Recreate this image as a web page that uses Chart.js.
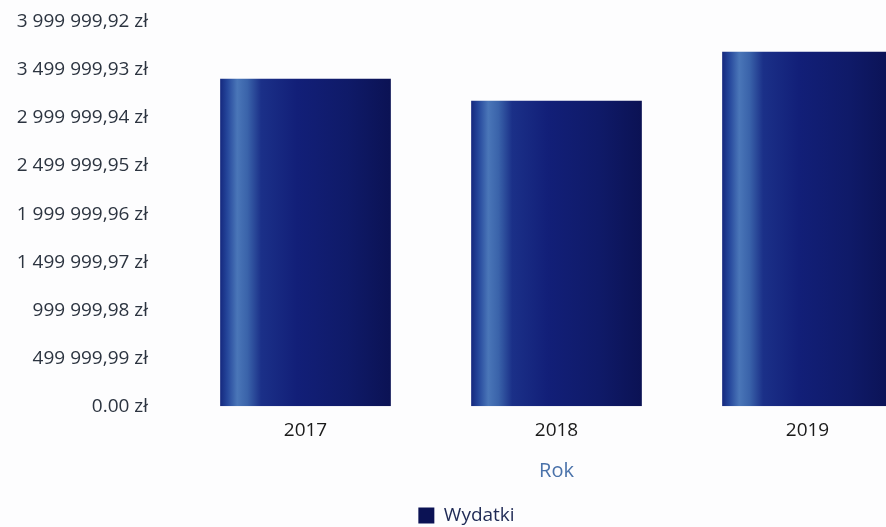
<!DOCTYPE html>
<html>
<head>
<meta charset="utf-8">
<script src="https://cdn.jsdelivr.net/npm/chart.js@4/dist/chart.umd.min.js"></script>
<style>
  html, body { margin: 0; padding: 0; background: #fdfdfe; overflow: hidden; }
  #wrap { width: 933px; height: 535px; position: relative; }
</style>
</head>
<body>
<div id="wrap"><canvas id="wydatkiChart"></canvas></div>
<script>
// Lata i wydatki
var years = ['2017', '2018', '2019'];
var wydatki = [3410000, 3180000, 3690000];

// Wartości i etykiety osi Y (tak jak na wykresie)
var yTickValues = [0, 499999.99, 999999.98, 1499999.97, 1999999.96, 2499999.95, 2999999.94, 3499999.93, 3999999.92];
var yTickLabels = ['0.00 zł', '499 999,99 zł', '999 999,98 zł', '1 499 999,97 zł', '1 999 999,96 zł',
                   '2 499 999,95 zł', '2 999 999,94 zł', '3 499 999,93 zł', '3 999 999,92 zł'];

var barPct = 0.85, catPct = 0.8;

// jasniejszy pasek po lewej stronie słupka
function barColor(c) {
    var chart = c.chart;
    var xs = chart.scales && chart.scales.x;
    if (c.type !== 'data' || !xs || !xs.width) return '#101a66';
    var cx = xs.getPixelForValue(c.dataIndex);
    var w = xs.width / years.length * catPct * barPct;
    var g = chart.ctx.createLinearGradient(cx - w / 2, 0, cx + w / 2, 0);
    g.addColorStop(0, '#15287e');
    g.addColorStop(0.04, '#24459a');
    g.addColorStop(0.1, '#4a76b8');
    g.addColorStop(0.16, '#3a63aa');
    g.addColorStop(0.24, '#1b3088');
    g.addColorStop(0.45, '#121f78');
    g.addColorStop(0.75, '#0f1a68');
    g.addColorStop(1, '#0b1254');
    return g;
}

var ctx = document.getElementById('wydatkiChart');

var chart = new Chart(ctx, {
    type: 'bar',
    data: {
        labels: years,
        datasets: [
            {
                label: 'Wydatki',
                data: wydatki,
                backgroundColor: barColor,
                borderWidth: 0,
                barPercentage: barPct,
                categoryPercentage: catPct
            }
        ]
    },
    options: {
        responsive: true,
        maintainAspectRatio: false,
        animation: false,
        layout: { padding: { top: 22, left: 0, right: 0, bottom: 0 } },
        plugins: {
            tooltip: { enabled: false },
            legend: {
                position: 'bottom',
                labels: {
                    boxWidth: 16,
                    boxHeight: 16,
                    padding: 2,
                    color: '#1f2a55',
                    font: { family: 'Open Sans', size: 19 }
                }
            }
        },
        scales: {
            x: {
                grid: { display: false },
                border: { display: false },
                ticks: { color: '#1a1a1a', font: { family: 'Open Sans', size: 19 }, padding: 5 },
                title: {
                    display: true,
                    text: 'Rok',
                    color: '#4a72aa',
                    font: { family: 'Open Sans', size: 20 },
                    padding: { top: 12, bottom: 21 }
                }
            },
            y: {
                min: 0,
                max: 3999999.92,
                grid: { display: false, tickLength: 24 },
                border: { display: false },
                afterBuildTicks: function (axis) {
                    axis.ticks = yTickValues.map(function (v) { return { value: v }; });
                },
                afterFit: function (axis) { axis.width = 180; },
                ticks: {
                    color: '#2c3440',
                    font: { family: 'Open Sans', size: 19 },
                    padding: 8,
                    callback: function (value, index) { return yTickLabels[index]; }
                }
            }
        }
    }
});
</script>
</body>
</html>
